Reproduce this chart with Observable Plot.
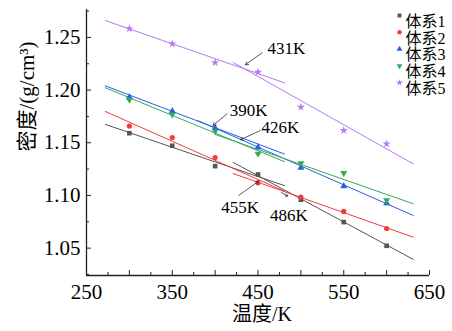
<!DOCTYPE html>
<html><head><meta charset="utf-8">
<script src="https://cdn.jsdelivr.net/npm/d3@7"></script>
<script src="https://cdn.jsdelivr.net/npm/@observablehq/plot@0.6"></script>
<style>
body{margin:0;background:#fff;}
#chart svg{display:block;}
</style></head><body><div id="chart"></div>
<script>
// ---- data ----
const seriesNames = ["体系1","体系2","体系3","体系4","体系5"];
const seriesColors = ["#555555","#f23c3c","#2462e6","#35ab5a","#b57af0"];
const temps = [300,350,400,450,500,550,600];
const dens1 = [1.1591,1.1472,1.1278,1.1199,1.0959,1.0747,1.0522];
const dens2 = [1.1658,1.1550,1.1360,1.1120,1.0984,1.0848,1.0686];
const dens3 = [1.1933,1.1800,1.1640,1.1458,1.1263,1.1088,1.0925];
const dens4 = [1.1908,1.1768,1.1610,1.1396,1.1306,1.1212,1.0953];
const dens5 = [1.2584,1.2439,1.2262,1.2170,1.1838,1.1617,1.1490];
// fitted lines: [T, density] end points (low-T segment, high-T segment)
const fitLow1 = [[272,1.1674],[481,1.1093]];
const fitHigh1 = [[421,1.1314],[631,1.0393]];
const fitLow2 = [[272,1.1797],[481,1.1039]];
const fitHigh2 = [[421,1.1208],[631,1.0604]];
const fitLow3 = [[272,1.2040],[481,1.1392]];
const fitHigh3 = [[380,1.1710],[631,1.0810]];
const fitLow4 = [[272,1.2022],[481,1.1320]];
const fitHigh4 = [[400,1.1579],[631,1.0921]];
const fitLow5 = [[272,1.2660],[481,1.2069]];
const fitHigh5 = [[421,1.2262],[631,1.1300]];
// annotations
const annLabels = ["431K","390K","426K","455K","486K"];
const annTextT = [461,417,454,407,464];
const annTextD = [1.2398,1.1806,1.1648,1.0889,1.0810];
const annTailT = [454.8,413.9,452.8,427.5,477.3];
const annTailD = [1.2354,1.1775,1.1617,1.1000,1.1028];
const annTipT = [435.3,397.6,429.5,450.8,484.6];
const annTipD = [1.2240,1.1664,1.1528,1.1136,1.0993];
// axes
const xDomain = [250,650];
const yDomain = [1.024,1.2765];
const xMajor = [250,300,350,400,450,500,550,600,650];
const xMinor = [275,325,375,425,475,525,575,625];
const xLabels = [250,350,450,550,650];
const yMajor = [1.05,1.10,1.15,1.20,1.25];
const yMinor = [1.025,1.075,1.125,1.175,1.225,1.275];
const xTitle = "温度/K";
const yTitle = "密度/(g/cm³)";

// ---- build tables ----
const densAll = [dens1,dens2,dens3,dens4,dens5];
const fitsAll = [[fitLow1,fitHigh1],[fitLow2,fitHigh2],[fitLow3,fitHigh3],[fitLow4,fitHigh4],[fitLow5,fitHigh5]];
const sqrt3 = Math.sqrt(3);
const triangleDown = {
  draw(context, size) {
    const y = -Math.sqrt(size / (sqrt3 * 3));
    context.moveTo(0, -y * 2);
    context.lineTo(-sqrt3 * y, y);
    context.lineTo(sqrt3 * y, y);
    context.closePath();
  }
};
const symbols = ["square","circle","triangle",triangleDown,"star"];

const fitRows = [];
fitsAll.forEach((segs, i) => segs.forEach((seg, j) => seg.forEach(([T, d]) =>
  fitRows.push({series: seriesNames[i], seg: seriesNames[i] + j, T, d}))));
const annRows = annLabels.map((label, i) => ({
  label, tx: annTextT[i], ty: annTextD[i],
  x1: annTailT[i], y1: annTailD[i], x2: annTipT[i], y2: annTipD[i]
}));

const font = "'Liberation Serif','Times New Roman','Noto Sans CJK SC',serif";
const marks = [];
// fit lines
marks.push(Plot.line(fitRows, {x: "T", y: "d", z: "seg", stroke: "series", strokeWidth: 1}));
// points
densAll.forEach((dens, i) => {
  marks.push(Plot.dot(temps.map((T, k) => ({T, d: dens[k]})), {
    x: "T", y: "d", symbol: symbols[i], fill: seriesColors[i], r: 2.6, stroke: "none"
  }));
});
// annotations
marks.push(Plot.arrow(annRows, {x1: "x1", y1: "y1", x2: "x2", y2: "y2", stroke: "#333", strokeWidth: 0.8, headLength: 6}));
marks.push(Plot.text(annRows, {x: "tx", y: "ty", text: "label", textAnchor: "start", fontSize: 17, fill: "#000"}));
// axes
marks.push(Plot.ruleX([xDomain[0]], {stroke: "#222", strokeWidth: 1.3}));
marks.push(Plot.ruleY([yDomain[0]], {stroke: "#222", strokeWidth: 1.3}));
marks.push(Plot.axisX(xMajor, {tickSize: -5, tickFormat: () => "", label: null, stroke: "#222"}));
marks.push(Plot.axisX(xMinor, {tickSize: -3, tickFormat: () => "", label: null, stroke: "#222"}));
marks.push(Plot.axisX(xLabels, {tickSize: 0, tickPadding: 9, tickFormat: d => String(d), label: null, fontSize: 21, fill: "#000"}));
marks.push(Plot.axisY(yMajor, {tickSize: -5, tickFormat: () => "", label: null, stroke: "#222"}));
marks.push(Plot.axisY(yMinor, {tickSize: -3, tickFormat: () => "", label: null, stroke: "#222"}));
marks.push(Plot.axisY(yMajor, {tickSize: 0, tickPadding: 6, tickFormat: d => d.toFixed(2), label: null, fontSize: 21, fill: "#000"}));
marks.push(Plot.text([yTitle], {frameAnchor: "left", rotate: -90, dx: -59, dy: 9, fontSize: 21, fill: "#000"}));
marks.push(Plot.text([xTitle], {frameAnchor: "bottom", dx: 4, dy: 45, fontSize: 20, fill: "#000"}));
// legend
seriesNames.forEach((name, i) => {
  marks.push(Plot.dot([name], {frameAnchor: "top-right", dx: -30, dy: 6 + i * 16.8, symbol: symbols[i], fill: seriesColors[i], r: 2.2, stroke: "none"}));
  marks.push(Plot.text([name], {frameAnchor: "top-right", dx: -24, dy: 6 + i * 16.8, textAnchor: "start", fontSize: 16, fill: "#000"}));
});

const chart = Plot.plot({
  width: 452,
  height: 331,
  marginLeft: 86,
  marginRight: 23,
  marginTop: 9,
  marginBottom: 56,
  style: {fontFamily: font, background: "#fff", color: "#000"},
  x: {domain: xDomain},
  y: {domain: yDomain},
  color: {domain: seriesNames, range: seriesColors},
  marks
});
document.getElementById("chart").append(chart);
</script>
</body></html>
